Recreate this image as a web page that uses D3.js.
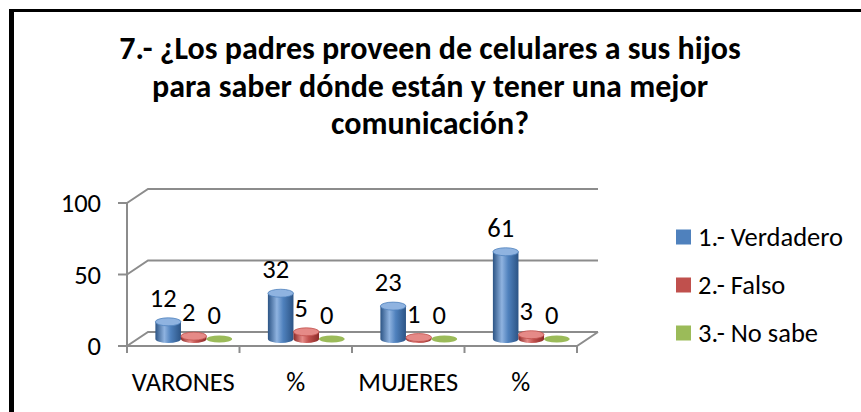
<!DOCTYPE html>
<html>
<head>
<meta charset="utf-8">
<script src="https://cdn.jsdelivr.net/npm/d3@7"></script>
<style>
  body { margin: 0; background: #fff; }
  svg text { font-family: Carlito, Calibri, Lato, "Liberation Sans", sans-serif; fill: #000; }
</style>
</head>
<body>
<div id="chart"></div>
<script>
// chart data
var categories = ["VARONES", "%", "MUJERES", "%"];
var seriesNames = ["1.- Verdadero", "2.- Falso", "3.- No sabe"];
var verdadero = [12, 32, 23, 61];
var falso = [2, 5, 1, 3];
var noSabe = [0, 0, 0, 0];
var yTicks = [0, 50, 100];
var titleLines = [
  "7.- ¿Los padres proveen de celulares a sus hijos",
  "para saber dónde están y tener una mejor",
  "comunicación?"
];

var seriesValues = [verdadero, falso, noSabe];
var colors = ["#4F81BD", "#C0504D", "#9BBB59"];
var darks = ["#2c5485", "#8c2b29", "#6b8a33"];
var lights = ["#8fb3e0", "#e58a87", "#c5dd8e"];

var width = 861, height = 412;
var labelSize = "26.5px";

var svg = d3.select("#chart").append("svg")
  .attr("width", width)
  .attr("height", height);

// frame (only top and left edges are inside the picture)
svg.append("rect").attr("x", 9).attr("y", 9).attr("width", 5).attr("height", height - 9).attr("fill", "#000");
svg.append("rect").attr("x", 9).attr("y", 9).attr("width", width - 9).attr("height", 3).attr("fill", "#000");

// title
svg.append("g").selectAll("text")
  .data(titleLines)
  .join("text")
  .attr("x", 430)
  .attr("y", function (d, i) { return 59 + i * 37.5; })
  .attr("text-anchor", "middle")
  .style("font-size", "32px")
  .style("font-weight", "bold")
  .text(function (d) { return d; });

// 3d plot geometry
var depthX = 21, depthY = -14;
var x = d3.scaleBand().domain(d3.range(categories.length)).range([127, 577]);
var y = d3.scaleLinear().domain([0, 100]).range([346, 203]);
var xs = d3.scaleBand().domain(d3.range(seriesNames.length))
  .range([0, x.bandwidth()]).paddingOuter(0.7);

var grid = svg.append("g")
  .attr("fill", "none")
  .attr("stroke", "#8c8c8c")
  .attr("stroke-width", 2);

// back wall + side gridlines
yTicks.forEach(function (t) {
  grid.append("path")
    .attr("d", "M127," + y(t) + "L" + (127 + depthX) + "," + (y(t) + depthY) + "H" + (577 + depthX));
});
// floor front and right edges
grid.append("path").attr("d", "M127," + y(0) + "H577L" + (577 + depthX) + "," + (y(0) + depthY));
// left axis
grid.append("path").attr("d", "M127," + y(100) + "V" + (y(0) + 6));
// y ticks
yTicks.forEach(function (t) {
  grid.append("path").attr("d", "M118," + y(t) + "H127");
});
// category ticks
d3.range(categories.length + 1).forEach(function (i) {
  var xx = i < categories.length ? x(i) : 577;
  grid.append("path").attr("d", "M" + xx + "," + y(0) + "V" + (y(0) + 7));
});

// y labels
svg.append("g").selectAll("text")
  .data(yTicks)
  .join("text")
  .attr("x", 101)
  .attr("y", function (d) { return y(d) + 9; })
  .attr("text-anchor", "end")
  .style("font-size", labelSize)
  .text(function (d) { return d; });

// category labels
svg.append("g").selectAll("text")
  .data(categories)
  .join("text")
  .attr("x", function (d, i) { return x(i) + x.bandwidth() / 2; })
  .attr("y", 391)
  .attr("text-anchor", "middle")
  .style("font-size", labelSize)
  .text(function (d) { return d; });

// gradients for cylinders
var defs = svg.append("defs");
colors.forEach(function (c, i) {
  var g = defs.append("linearGradient").attr("id", "cyl" + i)
    .attr("x1", "0").attr("x2", "1").attr("y1", "0").attr("y2", "0");
  g.append("stop").attr("offset", "0").attr("stop-color", darks[i]);
  g.append("stop").attr("offset", "0.35").attr("stop-color", lights[i]);
  g.append("stop").attr("offset", "0.6").attr("stop-color", c);
  g.append("stop").attr("offset", "1").attr("stop-color", darks[i]);
});

// bars as cylinders, placed mid-depth
var bars = [];
seriesValues.forEach(function (vals, s) {
  vals.forEach(function (v, c) {
    bars.push({ s: s, c: c, v: v });
  });
});

var midX = depthX / 2, midY = depthY / 2;
var bw = xs.bandwidth();
var ry = 4;

var barG = svg.append("g");
bars.forEach(function (b) {
  var x0 = x(b.c) + xs(b.s) + midX;
  var cx = x0 + bw / 2;
  var base = y(0) + midY;
  var top = y(b.v) + midY;
  var g = barG.append("g");
  if (b.v > 0) {
    g.append("path")
      .attr("d", "M" + x0 + "," + top + "V" + base +
        "A" + (bw / 2) + "," + ry + " 0 0 0 " + (x0 + bw) + "," + base +
        "V" + top + "Z")
      .attr("fill", "url(#cyl" + b.s + ")");
    g.append("ellipse")
      .attr("cx", cx).attr("cy", top)
      .attr("rx", bw / 2).attr("ry", ry)
      .attr("fill", lights[b.s])
      .attr("stroke", colors[b.s]).attr("stroke-width", 0.8);
  } else {
    g.append("ellipse")
      .attr("cx", cx).attr("cy", base)
      .attr("rx", bw / 2).attr("ry", ry - 0.5)
      .attr("fill", colors[b.s]);
  }
});

// value labels
svg.append("g").selectAll("text")
  .data(bars)
  .join("text")
  .attr("x", function (d) { return x(d.c) + xs(d.s) + midX + bw / 2 - 5; })
  .attr("y", function (d) { return y(d.v) + midY - 15; })
  .attr("text-anchor", "middle")
  .style("font-size", labelSize)
  .text(function (d) { return d.v; });

// legend
var legend = svg.append("g").selectAll("g")
  .data(seriesNames)
  .join("g")
  .attr("transform", function (d, i) { return "translate(676," + (237 + i * 48) + ")"; });
legend.append("rect")
  .attr("x", 0).attr("y", -7.5)
  .attr("width", 15).attr("height", 15)
  .attr("fill", function (d, i) { return colors[i]; });
legend.append("text")
  .attr("x", 22).attr("y", 9)
  .style("font-size", labelSize)
  .text(function (d) { return d; });
</script>
</body>
</html>
